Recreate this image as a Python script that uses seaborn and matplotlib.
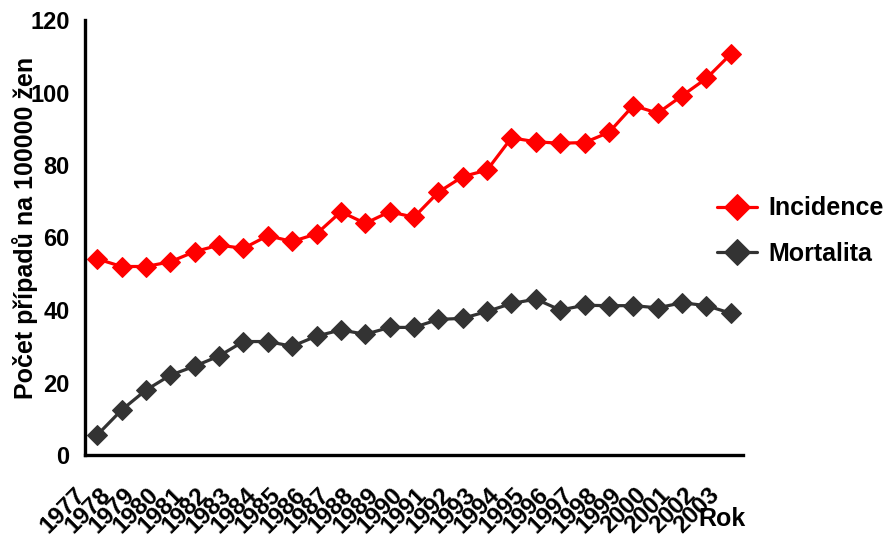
import matplotlib
matplotlib.use("Agg")
import matplotlib.pyplot as plt
from matplotlib.transforms import ScaledTranslation
import seaborn as sns
import numpy as np
import pandas as pd

years = list(range(1977, 2004))
incidence = [54.1, 52.0, 52.0, 53.3, 56.1, 57.9, 57.0, 60.5, 58.9, 61.0,
             67.1, 63.9, 67.1, 65.6, 72.5, 76.8, 78.6, 87.5, 86.4, 86.0,
             86.2, 89.0, 96.4, 94.3, 99.1, 103.9, 110.6]
mortalita = [5.5, 12.4, 17.9, 22.0, 24.5, 27.3, 31.3, 31.3, 30.0, 32.8,
             34.5, 33.3, 35.2, 35.2, 37.4, 37.7, 39.6, 41.8, 43.0, 40.0,
             41.3, 41.2, 41.2, 40.6, 42.0, 41.2, 39.1]
series_names = ["Incidence", "Mortalita"]
series_colors = ["#FF0000", "#333333"]
y_ticks = [0, 20, 40, 60, 80, 100, 120]

df = pd.DataFrame({"pos": np.arange(len(years)),
                   "Incidence": incidence, "Mortalita": mortalita})

sns.set_theme(style="white")
plt.rcParams["font.family"] = ["Liberation Sans", "DejaVu Sans"]
plt.rcParams["font.weight"] = "bold"
plt.rcParams["text.color"] = "black"

fig = plt.figure(figsize=(8.92, 5.38), dpi=100)
ax = fig.add_axes([85 / 892, 83 / 538, 658 / 892, 435 / 538])

for name, col in zip(series_names, series_colors):
    sns.lineplot(data=df, x="pos", y=name, ax=ax, color=col, marker="D",
                 markersize=10.5, markeredgecolor=col, linewidth=2.3,
                 label=name)

ax.set_xlim(-0.5, len(years) - 0.5)
ax.set_ylim(0, 120)
ax.set_yticks(y_ticks)
ax.set_yticklabels([str(v) for v in y_ticks], fontsize=17, fontweight="bold")

# category labels at centres, tick marks at category boundaries
ax.set_xticks(np.arange(len(years)))
ax.set_xticklabels([str(y) for y in years], rotation=45, ha="right",
                   va="center", rotation_mode="anchor", fontsize=17.5,
                   fontweight="bold")
ax.set_xticks(np.arange(len(years) + 1) - 0.5, minor=True)
ax.tick_params(axis="x", which="major", length=0, pad=26)
ax.tick_params(axis="x", which="minor", length=8, width=2.3, color="black",
               direction="out")
ax.tick_params(axis="y", which="major", length=8, width=2.3, color="black",
               direction="out", pad=3)
ax.tick_params(axis="both", colors="black", labelcolor="black")

for side in ["top", "right"]:
    ax.spines[side].set_visible(False)
for side in ["left", "bottom"]:
    ax.spines[side].set_color("black")
    ax.spines[side].set_linewidth(2.4)

ax.set_xlabel("")
ax.set_ylabel("")
fig.text(25 / 892, 1 - 228 / 538, "Počet případů na 100000 žen",
         rotation=90, ha="center", va="center", fontsize=18,
         fontweight="bold", color="black")
fig.text(698 / 892, 1 - 519 / 538, "Rok", ha="left", va="center",
         fontsize=18, fontweight="bold", color="black")

handles, labels = ax.get_legend_handles_labels()
leg = ax.legend(handles, labels, loc="center left",
                bbox_to_anchor=(717 / 892, 1 - 231 / 538),
                bbox_transform=fig.transFigure, frameon=False, borderpad=0,
                borderaxespad=0, handlelength=1.6, handletextpad=0.45,
                labelspacing=0.85, numpoints=1, markerscale=1.25,
                prop={"size": 18, "weight": "bold"})
for t in leg.get_texts():
    t.set_color("black")

# slide the slanted year labels left of their category centres
shift = ScaledTranslation(-15 / 100, 0, fig.dpi_scale_trans)
for tick in ax.xaxis.get_major_ticks():
    tick.label1.set_transform(tick.label1.get_transform() + shift)

fig.savefig("out.png", dpi=100)
